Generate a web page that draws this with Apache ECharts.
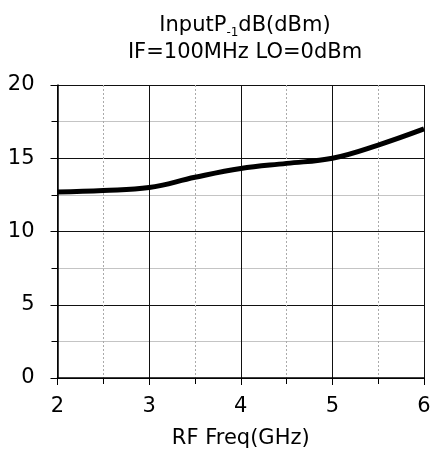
<!DOCTYPE html>
<html>
<head>
<meta charset="utf-8">
<script src="https://cdn.jsdelivr.net/npm/echarts@6/dist/echarts.min.js"></script>
<style>
html, body { margin: 0; padding: 0; background: #fff; }
#chart { width: 434px; height: 455px; }
</style>
</head>
<body>
<div id="chart"></div>
<script>
// RF 频率 (GHz) 与输入 P-1dB (dBm)
const freqGHz = [2, 2.5, 3, 3.5, 4, 4.5, 5, 5.5, 6];
const inputP1dB = [12.7, 12.8, 13.0, 13.7, 14.3, 14.65, 15.0, 15.9, 17.0];

const fontFamily = 'DejaVu Sans';
const myChart = echarts.init(document.getElementById('chart'));

const option = {
    animation: false,
    backgroundColor: '#fff',
    title: {
        left: 240,
        textAlign: 'center',
        top: 7,
        text: '{a|InputP}{s|-1}{a|dB(dBm)}\n{a|IF=100MHz LO=0dBm}',
        textStyle: {
            fontWeight: 'normal',
            rich: {
                a: { fontFamily: fontFamily, fontSize: 21, fontWeight: 'normal', color: '#000', lineHeight: 27 },
                s: { fontFamily: fontFamily, fontSize: 12, fontWeight: 'normal', color: '#000', lineHeight: 27, verticalAlign: 'bottom', padding: [10, 0, 0, 0] }
            }
        }
    },
    grid: {
        left: 57.5,
        right: 10,
        top: 85,
        bottom: 77,
        containLabel: false // 坐标区固定位置
    },
    xAxis: {
        type: 'value',
        min: 2,
        max: 6,
        interval: 1,
        name: 'RF Freq(GHz)',
        nameLocation: 'middle',
        nameGap: 50,
        nameTextStyle: { fontFamily: fontFamily, fontSize: 21, color: '#000' },
        axisLine: { show: true, onZero: false, lineStyle: { color: '#000', width: 1.5 } },
        axisTick: { show: true, length: 7, lineStyle: { color: '#000' } },
        minorTick: { show: true, splitNumber: 2, length: 6, lineStyle: { color: '#000' } },
        axisLabel: { fontFamily: fontFamily, fontSize: 21, color: '#000', margin: 18 },
        splitLine: { show: true, lineStyle: { color: '#111', width: 1 } },
        minorSplitLine: { show: true, lineStyle: { color: '#aaa', width: 1, type: [2, 2] } }
    },
    yAxis: {
        type: 'value',
        min: 0,
        max: 20,
        interval: 5,
        axisLine: { show: true, onZero: false, lineStyle: { color: '#000', width: 1.5 } },
        axisTick: { show: true, length: 7, lineStyle: { color: '#000' } },
        minorTick: { show: true, splitNumber: 2, length: 6, lineStyle: { color: '#000' } },
        axisLabel: { fontFamily: fontFamily, fontSize: 21, color: '#000', margin: 23 },
        splitLine: { show: true, lineStyle: { color: '#111', width: 1 } },
        minorSplitLine: { show: true, lineStyle: { color: '#c4c4c4', width: 1.2 } }
    },
    series: [
        {
            type: 'line',
            data: freqGHz.map((f, i) => [f, inputP1dB[i]]),
            smooth: 0.4,
            showSymbol: false,
            lineStyle: { color: '#000', width: 5 }
        }
    ]
};
myChart.setOption(option);
</script>
</body>
</html>
